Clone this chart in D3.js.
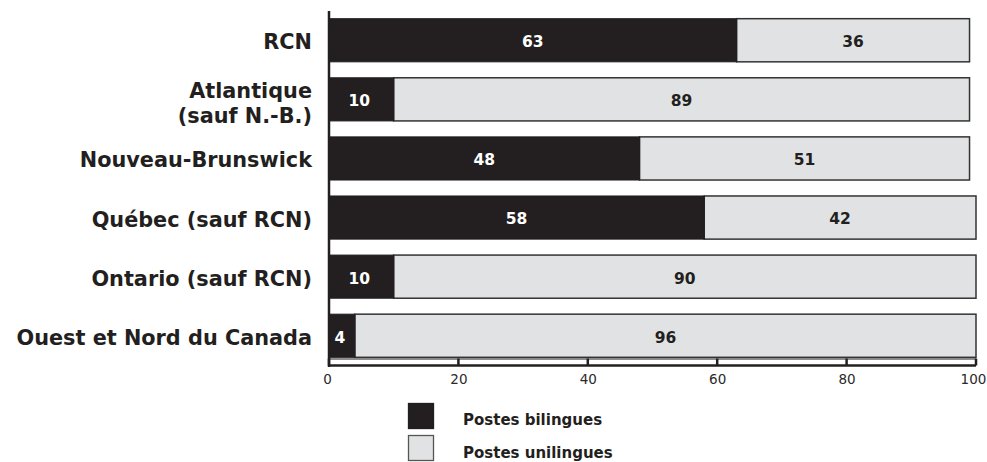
<!DOCTYPE html>
<html>
<head>
<meta charset="utf-8">
<script src="https://cdn.jsdelivr.net/npm/d3@7"></script>
<style>
  html, body { margin: 0; padding: 0; background: #fff; }
  svg { display: block; }
  text { font-family: "DejaVu Sans", sans-serif; }
</style>
</head>
<body>
<svg id="chart" width="987" height="462"></svg>
<script>
// Répartition des postes bilingues / unilingues par région (%)
const regions = [
  ["RCN"],
  ["Atlantique", "(sauf N.-B.)"],
  ["Nouveau-Brunswick"],
  ["Québec (sauf RCN)"],
  ["Ontario (sauf RCN)"],
  ["Ouest et Nord du Canada"]
];
const bilingues  = [63, 10, 48, 58, 10, 4];
const unilingues = [36, 89, 51, 42, 90, 96];
const xTicks = [0, 20, 40, 60, 80, 100];
const legendLabels = ["Postes bilingues", "Postes unilingues"];

const dark = "#231f20";
const light = "#e1e2e3";
const edge = "#333";

const svg = d3.select("#chart");

const x = d3.scaleLinear().domain([0, 100]).range([329, 976]);
const y = d3.scaleBand()
  .domain(d3.range(regions.length))
  .range([11, 365])
  .paddingInner(0.27)
  .paddingOuter(0.13);

const rows = svg.append("g").selectAll("g")
  .data(regions.map((r, i) => ({ lines: r, b: bilingues[i], u: unilingues[i], i })))
  .join("g");

// Segment unilingue (clair) puis bilingue (foncé)
rows.append("rect")
  .attr("x", d => x(d.b))
  .attr("y", d => y(d.i))
  .attr("width", d => x(d.b + d.u) - x(d.b))
  .attr("height", y.bandwidth())
  .attr("fill", light)
  .attr("stroke", edge)
  .attr("stroke-width", 1.5);

rows.append("rect")
  .attr("x", x(0))
  .attr("y", d => y(d.i))
  .attr("width", d => x(d.b) - x(0))
  .attr("height", y.bandwidth())
  .attr("fill", dark)
  .attr("stroke", dark)
  .attr("stroke-width", 1);

// Valeurs dans les segments
rows.append("text")
  .attr("x", d => (x(0) + x(d.b)) / 2 + (d.b < 15 ? -2 : 0))
  .attr("y", d => y(d.i) + y.bandwidth() / 2 + 1.5)
  .attr("dy", "0.35em")
  .attr("text-anchor", "middle")
  .attr("fill", "#fff")
  .attr("font-weight", 700)
  .attr("font-size", 15.5)
  .text(d => d.b);

rows.append("text")
  .attr("x", d => (x(d.b) + x(d.b + d.u)) / 2)
  .attr("y", d => y(d.i) + y.bandwidth() / 2 + 1.5)
  .attr("dy", "0.35em")
  .attr("text-anchor", "middle")
  .attr("fill", dark)
  .attr("font-weight", 700)
  .attr("font-size", 15.5)
  .text(d => d.u);

// Étiquettes des régions
rows.append("text")
  .attr("text-anchor", "end")
  .attr("fill", dark)
  .attr("font-weight", 700)
  .attr("font-size", 20.8)
  .each(function(d) {
    const t = d3.select(this);
    const n = d.lines.length;
    const cy = y(d.i) + y.bandwidth() / 2 + 1.5 + (n > 1 ? 2 : 0);
    d.lines.forEach((line, k) => {
      t.append("tspan")
        .attr("x", 312)
        .attr("y", cy + (k - (n - 1) / 2) * 25)
        .attr("dy", "0.36em")
        .text(line);
    });
  });

// Axe vertical
svg.append("line")
  .attr("x1", x(0)).attr("x2", x(0))
  .attr("y1", 11).attr("y2", 367)
  .attr("stroke", dark).attr("stroke-width", 2.5);

// Axe horizontal : double trait avec graduations
const axisG = svg.append("g").attr("transform", "translate(0,365.5)");
axisG.call(d3.axisBottom(x).tickValues(xTicks).tickSize(0).tickPadding(9))
  .call(g => g.select(".domain").remove())
  .call(g => g.selectAll("text")
    .attr("font-size", 13.5)
    .attr("fill", "#2a2a2a")
    .attr("font-family", "'Open Sans', 'DejaVu Sans', sans-serif"))
  .call(g => g.selectAll(".tick text")
    .attr("x", d => d === 100 ? -3 : (d === 0 ? -2 : 0)));
axisG.append("line")
  .attr("x1", x(0)).attr("x2", x(100))
  .attr("y1", 0).attr("y2", 0)
  .attr("stroke", dark).attr("stroke-width", 2.5);
axisG.append("line")
  .attr("x1", x(0)).attr("x2", x(100))
  .attr("y1", -6.5).attr("y2", -6.5)
  .attr("stroke", dark).attr("stroke-width", 1.2);
axisG.selectAll(".tickmark")
  .data(xTicks)
  .join("line")
  .attr("x1", d => x(d)).attr("x2", d => x(d))
  .attr("y1", -7).attr("y2", 0)
  .attr("stroke", dark).attr("stroke-width", 2.5);

// Légende
const legend = svg.append("g");
legendLabels.forEach((label, k) => {
  legend.append("rect")
    .attr("x", 408.5).attr("y", 403.5 + k * 32)
    .attr("width", 25).attr("height", 25)
    .attr("fill", k === 0 ? dark : light)
    .attr("stroke", k === 0 ? dark : "#555")
    .attr("stroke-width", 1.3);
  legend.append("text")
    .attr("x", 463).attr("y", 425 + k * 33)
    .attr("fill", dark)
    .attr("font-weight", 700)
    .attr("font-size", 15)
    .text(label);
});
</script>
</body>
</html>
